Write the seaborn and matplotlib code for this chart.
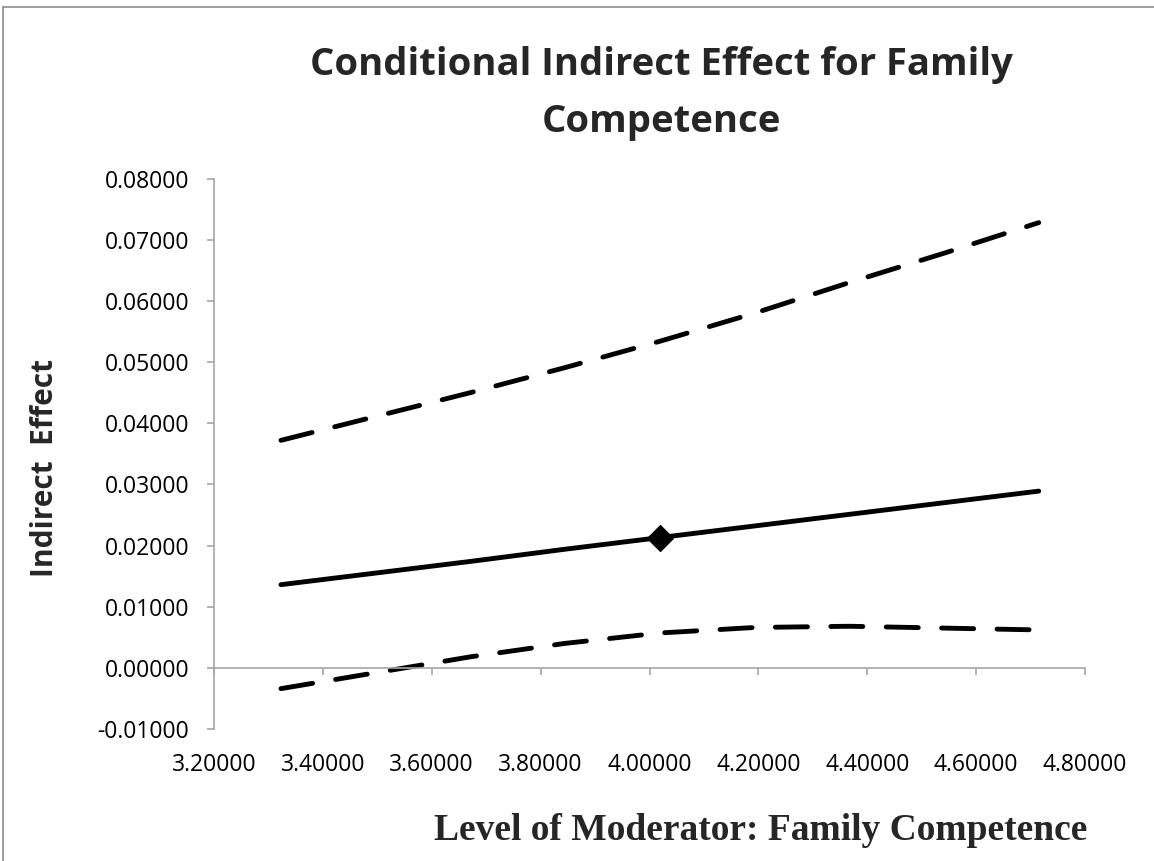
import pandas as pd
import seaborn as sns
import matplotlib.pyplot as plt
from matplotlib.lines import Line2D

# Valeurs (niveau du modérateur et effets indirects)
moderator = [3.323, 3.497, 3.671, 3.845, 4.019, 4.193, 4.367, 4.541, 4.715]
effect = [0.0136, 0.0155, 0.0174, 0.0194, 0.0213, 0.0232, 0.0251, 0.0270, 0.0289]
upper_ci = [0.0372, 0.0411, 0.0450, 0.0491, 0.0534, 0.0580, 0.0630, 0.0678, 0.0728]
lower_ci = [-0.0034, -0.0008, 0.0018, 0.0040, 0.0057, 0.0066, 0.0068, 0.0065, 0.0062]
mean_moderator = [4.019]
mean_effect = [0.0213]

y_ticks = [-0.01, 0.0, 0.01, 0.02, 0.03, 0.04, 0.05, 0.06, 0.07, 0.08]
x_ticks = [3.2, 3.4, 3.6, 3.8, 4.0, 4.2, 4.4, 4.6, 4.8]

sns.set_style("white")
plt.rcParams["font.family"] = ["Open Sans", "DejaVu Sans"]

# Format long pour seaborn
df = pd.DataFrame({
    "moderator": moderator * 3,
    "value": effect + upper_ci + lower_ci,
    "series": ["effect"] * len(effect) + ["upper"] * len(upper_ci) + ["lower"] * len(lower_ci),
})

fig = plt.figure(figsize=(11.54, 8.61), dpi=100)
W, H = 1154, 861
ax = fig.add_axes([214 / W, 1 - 729 / H, (1085 - 214) / W, (729 - 178.6) / H])

sns.lineplot(
    data=df, x="moderator", y="value", style="series",
    dashes={"effect": "", "upper": (6.6, 4.8), "lower": (6.6, 4.8)},
    color="black", linewidth=3.5, legend=False, ax=ax,
    solid_capstyle="round", dash_capstyle="round")

sns.scatterplot(x=mean_moderator, y=mean_effect, marker="D", s=170,
                color="black", edgecolor="black", zorder=5, ax=ax)

ax.set_xlim(3.2, 4.8)
ax.set_ylim(-0.01, 0.08)
ax.set_xticks(x_ticks)
ax.set_yticks(y_ticks)
ax.set_xticklabels([f"{v:.5f}" for v in x_ticks])
ax.set_yticklabels([f"{v:.5f}" for v in y_ticks])

axis_gray = "#A6A6A6"
ax.spines["top"].set_visible(False)
ax.spines["right"].set_visible(False)
ax.spines["bottom"].set_position(("data", 0))
for s in ["left", "bottom"]:
    ax.spines[s].set_color(axis_gray)
    ax.spines[s].set_linewidth(1.2)
ax.tick_params(axis="both", which="major", direction="out", length=5, width=1.2,
               color=axis_gray, labelsize=16.5, labelcolor="black")
ax.tick_params(axis="y", left=True, pad=13)
ax.tick_params(axis="x", bottom=True, pad=56)
ax.set_xlabel("")
ax.set_ylabel("")

# Titre (deux lignes) et étiquettes d'axes
fig.text(661 / W, 1 - 75 / H, "Conditional Indirect Effect for Family",
         ha="center", va="baseline", fontsize=27.5, fontweight="bold")
fig.text(661 / W, 1 - 132 / H, "Competence",
         ha="center", va="baseline", fontsize=27.5, fontweight="bold")
fig.text(45 / W, 1 - 468 / H, "Indirect  Effect", rotation=90,
         ha="center", va="center", fontsize=21.5, fontweight="bold")
fig.text(761 / W, 1 - 830 / H, "Level of Moderator: Family Competence",
         ha="center", va="center", fontsize=27, fontweight="bold",
         family=["Liberation Serif", "DejaVu Serif"])

# Cadre de la zone du graphique (haut et gauche)
frame_color = "#8C8C8C"
fig.add_artist(Line2D([3 / W, 3 / W], [0, 1 - 7 / H], transform=fig.transFigure,
                      color=frame_color, linewidth=1.2))
fig.add_artist(Line2D([3 / W, 1], [1 - 7 / H, 1 - 7 / H], transform=fig.transFigure,
                      color=frame_color, linewidth=1.2))

fig.savefig("out.png", dpi=100)
